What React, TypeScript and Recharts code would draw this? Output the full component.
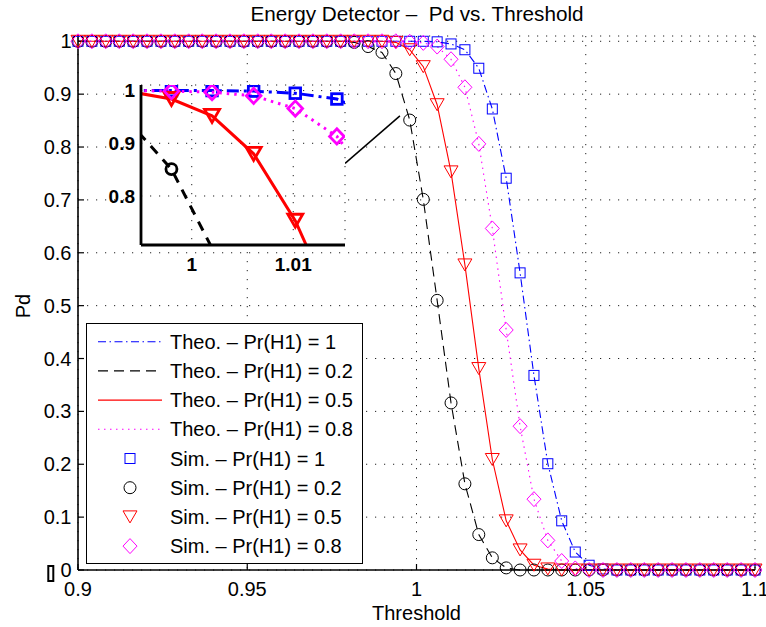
import React from 'react';
import { LineChart, Line, XAxis, YAxis, CartesianGrid, Legend, ReferenceLine, Label } from 'recharts';

// ---- data -------------------------------------------------------------
const THRESHOLD = [
  0.9, 0.9041, 0.9082, 0.9122, 0.9163, 0.9204, 0.9245, 0.9286, 0.9327, 0.9367,
  0.9408, 0.9449, 0.949, 0.9531, 0.9571, 0.9612, 0.9653, 0.9694, 0.9735, 0.9776,
  0.9816, 0.9857, 0.9898, 0.9939, 0.998, 1.002, 1.0061, 1.0102, 1.0143, 1.0184,
  1.0224, 1.0265, 1.0306, 1.0347, 1.0388, 1.0429, 1.0469, 1.051, 1.0551, 1.0592,
  1.0633, 1.0673, 1.0714, 1.0755, 1.0796, 1.0837, 1.0878, 1.0918, 1.0959, 1.1,
];

// theoretical Pd curves
const THEO_PR1 = [
  1, 1, 1, 1, 1, 1, 1, 1, 1, 1,
  1, 1, 1, 1, 1, 1, 1, 1, 1, 1,
  1, 1, 1, 1, 1, 1, 0.999, 0.995, 0.984, 0.949,
  0.872, 0.741, 0.562, 0.368, 0.201, 0.093, 0.034, 0.009, 0.002, 0,
  0, 0, 0, 0, 0, 0, 0, 0, 0, 0,
];
const THEO_PR02 = [
  1, 1, 1, 1, 1, 1, 1, 1, 1, 1,
  1, 1, 1, 1, 1, 1, 1, 1, 1, 1,
  0.998, 0.99, 0.979, 0.939, 0.851, 0.701, 0.51, 0.316, 0.163, 0.067,
  0.023, 0.004, 0, 0, 0, 0, 0, 0, 0, 0,
  0, 0, 0, 0, 0, 0, 0, 0, 0, 0,
];
const THEO_PR05 = [
  1, 1, 1, 1, 1, 1, 1, 1, 1, 1,
  1, 1, 1, 1, 1, 1, 1, 1, 1, 1,
  1, 1, 1, 0.998, 0.984, 0.952, 0.88, 0.753, 0.577, 0.381,
  0.209, 0.093, 0.038, 0.009, 0.002, 0, 0, 0, 0, 0,
  0, 0, 0, 0, 0, 0, 0, 0, 0, 0,
];
const THEO_PR08 = [
  1, 1, 1, 1, 1, 1, 1, 1, 1, 1,
  1, 1, 1, 1, 1, 1, 1, 1, 1, 1,
  1, 1, 1, 1, 0.999, 0.997, 0.99, 0.966, 0.913, 0.806,
  0.646, 0.454, 0.272, 0.134, 0.056, 0.017, 0.003, 0, 0, 0,
  0, 0, 0, 0, 0, 0, 0, 0, 0, 0,
];

// simulated Pd
const SIM_PR1 = [
  1, 1, 1, 1, 1, 1, 1, 1, 1, 1,
  1, 1, 1, 1, 1, 1, 1, 1, 1, 1,
  1, 1, 1, 1, 1, 1, 0.999, 0.995, 0.984, 0.949,
  0.872, 0.741, 0.562, 0.368, 0.201, 0.093, 0.034, 0.009, 0.002, 0,
  0, 0, 0, 0, 0, 0, 0, 0, 0, 0,
];
const SIM_PR02 = [
  1, 1, 1, 1, 1, 1, 1, 1, 1, 1,
  1, 1, 1, 1, 1, 1, 1, 1, 1, 1,
  0.998, 0.99, 0.979, 0.939, 0.851, 0.701, 0.51, 0.316, 0.163, 0.067,
  0.023, 0.004, 0, 0, 0, 0, 0, 0, 0, 0,
  0, 0, 0, 0, 0, 0, 0, 0, 0, 0,
];
const SIM_PR05 = [
  1, 1, 1, 1, 1, 1, 1, 1, 1, 1,
  1, 1, 1, 1, 1, 1, 1, 1, 1, 1,
  1, 1, 1, 0.998, 0.984, 0.952, 0.88, 0.753, 0.577, 0.381,
  0.209, 0.093, 0.038, 0.009, 0.002, 0, 0, 0, 0, 0,
  0, 0, 0, 0, 0, 0, 0, 0, 0, 0,
];
const SIM_PR08 = [
  1, 1, 1, 1, 1, 1, 1, 1, 1, 1,
  1, 1, 1, 1, 1, 1, 1, 1, 1, 1,
  1, 1, 1, 1, 0.999, 0.997, 0.99, 0.966, 0.913, 0.806,
  0.646, 0.454, 0.272, 0.134, 0.056, 0.017, 0.003, 0, 0, 0,
  0, 0, 0, 0, 0, 0, 0, 0, 0, 0,
];

const PR_LABELS = ['1', '0.2', '0.5', '0.8'];

const X_TICKS = [0.9, 0.95, 1, 1.05, 1.1];
const X_TICK_LABELS = ['0.9', '0.95', '1', '1.05', '1.1'];
const Y_TICKS = [0, 0.1, 0.2, 0.3, 0.4, 0.5, 0.6, 0.7, 0.8, 0.9, 1];
const Y_TICK_LABELS = ['0', '0.1', '0.2', '0.3', '0.4', '0.5', '0.6', '0.7', '0.8', '0.9', '1'];

const INSET_X_TICKS = [1, 1.01];
const INSET_X_TICK_LABELS = ['1', '1.01'];
const INSET_Y_TICKS = [0.8, 0.9, 1];
const INSET_Y_TICK_LABELS = ['0.8', '0.9', '1'];

const TITLE = 'Energy Detector \u2013\u00a0 Pd vs. Threshold';
const X_LABEL = 'Threshold';
const Y_LABEL = 'Pd';

// ---- axes ranges --------------------------------------------------------
const X_DOMAIN = [0.9, 1.1];
const Y_DOMAIN = [0, 1.01];
const INSET_X_DOMAIN = [0.995, 1.0151];
const INSET_Y_DOMAIN = [0.707, 1.0106];
// connector from the inset to the zoomed region (data coordinates)
const CONNECTOR = [
  { x: 0.9789, y: 0.769 },
  { x: 0.9951, y: 0.859 },
];

// ---- styling ---------------------------------------------------------
const FONT = '"Liberation Sans", Arial, Helvetica, sans-serif';
const BLUE = '#0000ff';
const BLACK = '#000000';
const RED = '#ff0000';
const MAGENTA = '#ff00ff';
const GRID_DASH = '1.2 7.8';

type Shape = 'square' | 'circle' | 'triangle' | 'diamond';

const THEO_SERIES = [
  { key: 'theo1', values: THEO_PR1, pr: PR_LABELS[0], color: BLUE, dash: '8 3.5 1.5 3.5', insetDash: '12 5 3 5' },
  { key: 'theo02', values: THEO_PR02, pr: PR_LABELS[1], color: BLACK, dash: '10 6', insetDash: '10 8' },
  { key: 'theo05', values: THEO_PR05, pr: PR_LABELS[2], color: RED, dash: undefined, insetDash: undefined },
  { key: 'theo08', values: THEO_PR08, pr: PR_LABELS[3], color: MAGENTA, dash: '1.5 4.5', insetDash: '2.5 5' },
];

const SIM_SERIES: { key: string; values: number[]; pr: string; color: string; shape: Shape }[] = [
  { key: 'sim1', values: SIM_PR1, pr: PR_LABELS[0], color: BLUE, shape: 'square' },
  { key: 'sim02', values: SIM_PR02, pr: PR_LABELS[1], color: BLACK, shape: 'circle' },
  { key: 'sim05', values: SIM_PR05, pr: PR_LABELS[2], color: RED, shape: 'triangle' },
  { key: 'sim08', values: SIM_PR08, pr: PR_LABELS[3], color: MAGENTA, shape: 'diamond' },
];

const rows = THRESHOLD.map((x, i) => {
  const row: Record<string, number> = { x };
  THEO_SERIES.forEach((s) => (row[s.key] = s.values[i]));
  SIM_SERIES.forEach((s) => (row[s.key] = s.values[i]));
  return row;
});

const MAIN_MARKER = { square: [5, 5], circle: [6, 6], triangle: [7, 6], diamond: [7, 7.5] };
const INSET_MARKER = { square: [5.3, 5.3], circle: [5.5, 5.5], triangle: [7.5, 6.5], diamond: [7.3, 7.6] };

function MarkerShape({ shape, cx, cy, color, sizes, sw }: any) {
  const [w, h] = sizes[shape];
  const common = { fill: 'none', stroke: color, strokeWidth: sw };
  if (shape === 'square') return <rect x={cx - w} y={cy - h} width={2 * w} height={2 * h} {...common} />;
  if (shape === 'circle') return <circle cx={cx} cy={cy} r={w} {...common} />;
  if (shape === 'triangle')
    return <polygon points={`${cx - w},${cy - h} ${cx + w},${cy - h} ${cx},${cy + h}`} {...common} />;
  return <polygon points={`${cx},${cy - h} ${cx + w},${cy} ${cx},${cy + h} ${cx - w},${cy}`} {...common} />;
}

const mainDot = (shape: Shape, color: string) => (p: any) => (
  <g key={`m-${shape}-${p.index}`}>
    <MarkerShape shape={shape} cx={p.cx} cy={p.cy} color={color} sizes={MAIN_MARKER} sw={1} />
  </g>
);

const insetDot = (shape: Shape, color: string) => (p: any) => {
  const inside =
    p.payload.x >= INSET_X_DOMAIN[0] &&
    p.payload.x <= INSET_X_DOMAIN[1] &&
    p.value >= INSET_Y_DOMAIN[0] &&
    p.value <= INSET_Y_DOMAIN[1];
  return (
    <g key={`i-${shape}-${p.index}`}>
      {inside ? <MarkerShape shape={shape} cx={p.cx} cy={p.cy} color={color} sizes={INSET_MARKER} sw={2.8} /> : null}
    </g>
  );
};

const mainYTick = (p: any) => {
  const v = p.payload.value;
  const label = Y_TICK_LABELS[Y_TICKS.indexOf(v)];
  return (
    <g>
      {v === 0 ? (
        <rect x={p.x - 23.2} y={p.y - 4} width={5} height={15} fill="none" stroke="#000" strokeWidth={2} />
      ) : null}
      <text x={p.x} y={p.y} dy="0.355em" textAnchor="end" fontSize={20} fontFamily={FONT} fill="#000">
        {label}
      </text>
    </g>
  );
};

function LegendBox() {
  const rowY = (i: number) => 18.7 + i * 29.2;
  const textProps = { fontSize: 20, fontFamily: FONT, fill: '#000' };
  return (
    <svg width={277} height={241} style={{ display: 'block' }}>
      <rect x={0.5} y={0.5} width={276} height={240} fill="#fff" stroke="#000" strokeWidth={1} />
      {THEO_SERIES.map((s, i) => (
        <g key={s.key}>
          <line x1={12} x2={76} y1={rowY(i)} y2={rowY(i)} stroke={s.color} strokeWidth={1.1} strokeDasharray={s.dash} />
          <text x={84} y={rowY(i)} dy="0.355em" {...textProps}>
            {`Theo. \u2013 Pr(H1) = ${s.pr}`}
          </text>
        </g>
      ))}
      {SIM_SERIES.map((s, i) => (
        <g key={s.key}>
          <MarkerShape shape={s.shape} cx={44} cy={rowY(i + 4)} color={s.color} sizes={MAIN_MARKER} sw={1} />
          <text x={84} y={rowY(i + 4)} dy="0.355em" {...textProps}>
            {`Sim. \u2013 Pr(H1) = ${s.pr}`}
          </text>
        </g>
      ))}
    </svg>
  );
}

const AXIS_LINE = { stroke: '#000', strokeWidth: 1.6 };
const TICK_LINE = { stroke: '#000', strokeWidth: 1.2 };
const TICK_FONT = { fill: '#000', fontSize: 20, fontFamily: FONT };
const INSET_AXIS_LINE = { stroke: '#000', strokeWidth: 2.8 };
const INSET_TICK_FONT = { fill: '#000', fontSize: 19, fontFamily: FONT, fontWeight: 'bold' };

export default function App() {
  return (
    <div style={{ position: 'absolute', left: 0, top: 0, width: 766, height: 627, background: '#fff' }}>
      <LineChart width={766} height={627} data={rows} margin={{ top: 36, right: 11, bottom: 27, left: 0 }}>
        <CartesianGrid stroke="#222" strokeWidth={1} strokeDasharray={GRID_DASH} />
        <XAxis
          dataKey="x"
          type="number"
          domain={X_DOMAIN}
          ticks={X_TICKS}
          interval={0}
          tickFormatter={(v: number) => X_TICK_LABELS[X_TICKS.indexOf(v)]}
          height={30}
          tickSize={-6}
          tickMargin={18}
          axisLine={AXIS_LINE}
          tickLine={TICK_LINE}
          tick={TICK_FONT}
        >
          <Label value={X_LABEL} position="bottom" offset={6} fontSize={20} fontFamily={FONT} fill="#000" />
        </XAxis>
        <XAxis
          xAxisId="top"
          orientation="top"
          type="number"
          domain={X_DOMAIN}
          ticks={X_TICKS}
          interval={0}
          height={0}
          tick={false}
          tickSize={-6}
          axisLine={AXIS_LINE}
          tickLine={TICK_LINE}
        />
        <YAxis
          type="number"
          domain={Y_DOMAIN}
          ticks={Y_TICKS}
          interval={0}
          width={78}
          tickSize={-6}
          tickMargin={12.5}
          axisLine={AXIS_LINE}
          tickLine={TICK_LINE}
          tick={mainYTick}
        >
          <Label
            content={(p: any) => {
              const vb = p.viewBox;
              const x = vb.x + 29.5;
              const y = vb.y + vb.height / 2 + 3;
              return (
                <text x={x} y={y} transform={`rotate(-90 ${x} ${y})`} textAnchor="middle" fontSize={20} fontFamily={FONT} fill="#000">
                  {Y_LABEL}
                </text>
              );
            }}
          />
        </YAxis>
        <YAxis
          yAxisId="right"
          orientation="right"
          type="number"
          domain={Y_DOMAIN}
          ticks={Y_TICKS}
          interval={0}
          width={0}
          tick={false}
          tickSize={-6}
          axisLine={AXIS_LINE}
          tickLine={TICK_LINE}
        />

        {THEO_SERIES.map((s) => (
          <Line
            key={s.key}
            dataKey={s.key}
            type="linear"
            stroke={s.color}
            strokeWidth={1.1}
            strokeDasharray={s.dash}
            dot={false}
            activeDot={false}
            isAnimationActive={false}
          />
        ))}
        {SIM_SERIES.map((s) => (
          <Line
            key={s.key}
            dataKey={s.key}
            type="linear"
            stroke="none"
            dot={mainDot(s.shape, s.color)}
            activeDot={false}
            isAnimationActive={false}
          />
        ))}

        <ReferenceLine segment={CONNECTOR} stroke="#000" strokeWidth={1.5} />

        <Legend
          layout="vertical"
          align="center"
          verticalAlign="middle"
          wrapperStyle={{ position: 'absolute', left: 86, top: 323, width: 277, height: 241, margin: 0, padding: 0 }}
          content={() => <LegendBox />}
        />
      </LineChart>

      {/* chart title, centred over the plot area */}
      <svg
        width={766}
        height={34}
        style={{ position: 'absolute', left: 0, top: 0, pointerEvents: 'none' }}
      >
        <text x={417} y={20.5} textAnchor="middle" fontSize={20.7} fontFamily={FONT} fill="#000">
          {TITLE}
        </text>
      </svg>

      {/* zoomed inset */}
      <div style={{ position: 'absolute', left: 91, top: 82 }}>
        <LineChart width={257} height={198} data={rows} margin={{ top: 3, right: 3, bottom: 0, left: 0 }}>
          <CartesianGrid fill="#fff" fillOpacity={1} stroke="#222" strokeWidth={1} strokeDasharray={GRID_DASH} />
          <XAxis
            dataKey="x"
            type="number"
            domain={INSET_X_DOMAIN}
            allowDataOverflow
            ticks={INSET_X_TICKS}
            interval={0}
            tickFormatter={(v: number) => INSET_X_TICK_LABELS[INSET_X_TICKS.indexOf(v)]}
            height={35}
            tickLine={false}
            tickSize={6}
            tickMargin={7}
            axisLine={INSET_AXIS_LINE}
            tick={INSET_TICK_FONT}
          />
          <XAxis
            xAxisId="top"
            orientation="top"
            type="number"
            domain={INSET_X_DOMAIN}
            allowDataOverflow
            height={0}
            tick={false}
            tickLine={false}
            axisLine={INSET_AXIS_LINE}
          />
          <YAxis
            type="number"
            domain={INSET_Y_DOMAIN}
            allowDataOverflow
            ticks={INSET_Y_TICKS}
            interval={0}
            tickFormatter={(v: number) => INSET_Y_TICK_LABELS[INSET_Y_TICKS.indexOf(v)]}
            width={50}
            tickLine={false}
            tickSize={6}
            tickMargin={0}
            axisLine={INSET_AXIS_LINE}
            tick={INSET_TICK_FONT}
          />
          <YAxis
            yAxisId="right"
            orientation="right"
            type="number"
            domain={INSET_Y_DOMAIN}
            allowDataOverflow
            width={0}
            tick={false}
            tickLine={false}
            axisLine={INSET_AXIS_LINE}
          />
          {THEO_SERIES.map((s) => (
            <Line
              key={s.key}
              dataKey={s.key}
              type="linear"
              stroke={s.color}
              strokeWidth={3}
              strokeDasharray={s.insetDash}
              dot={false}
              activeDot={false}
              isAnimationActive={false}
            />
          ))}
          {SIM_SERIES.map((s) => (
            <Line
              key={s.key}
              dataKey={s.key}
              type="linear"
              stroke="none"
              dot={insetDot(s.shape, s.color)}
              activeDot={false}
              isAnimationActive={false}
            />
          ))}
        </LineChart>
      </div>
    </div>
  );
}
